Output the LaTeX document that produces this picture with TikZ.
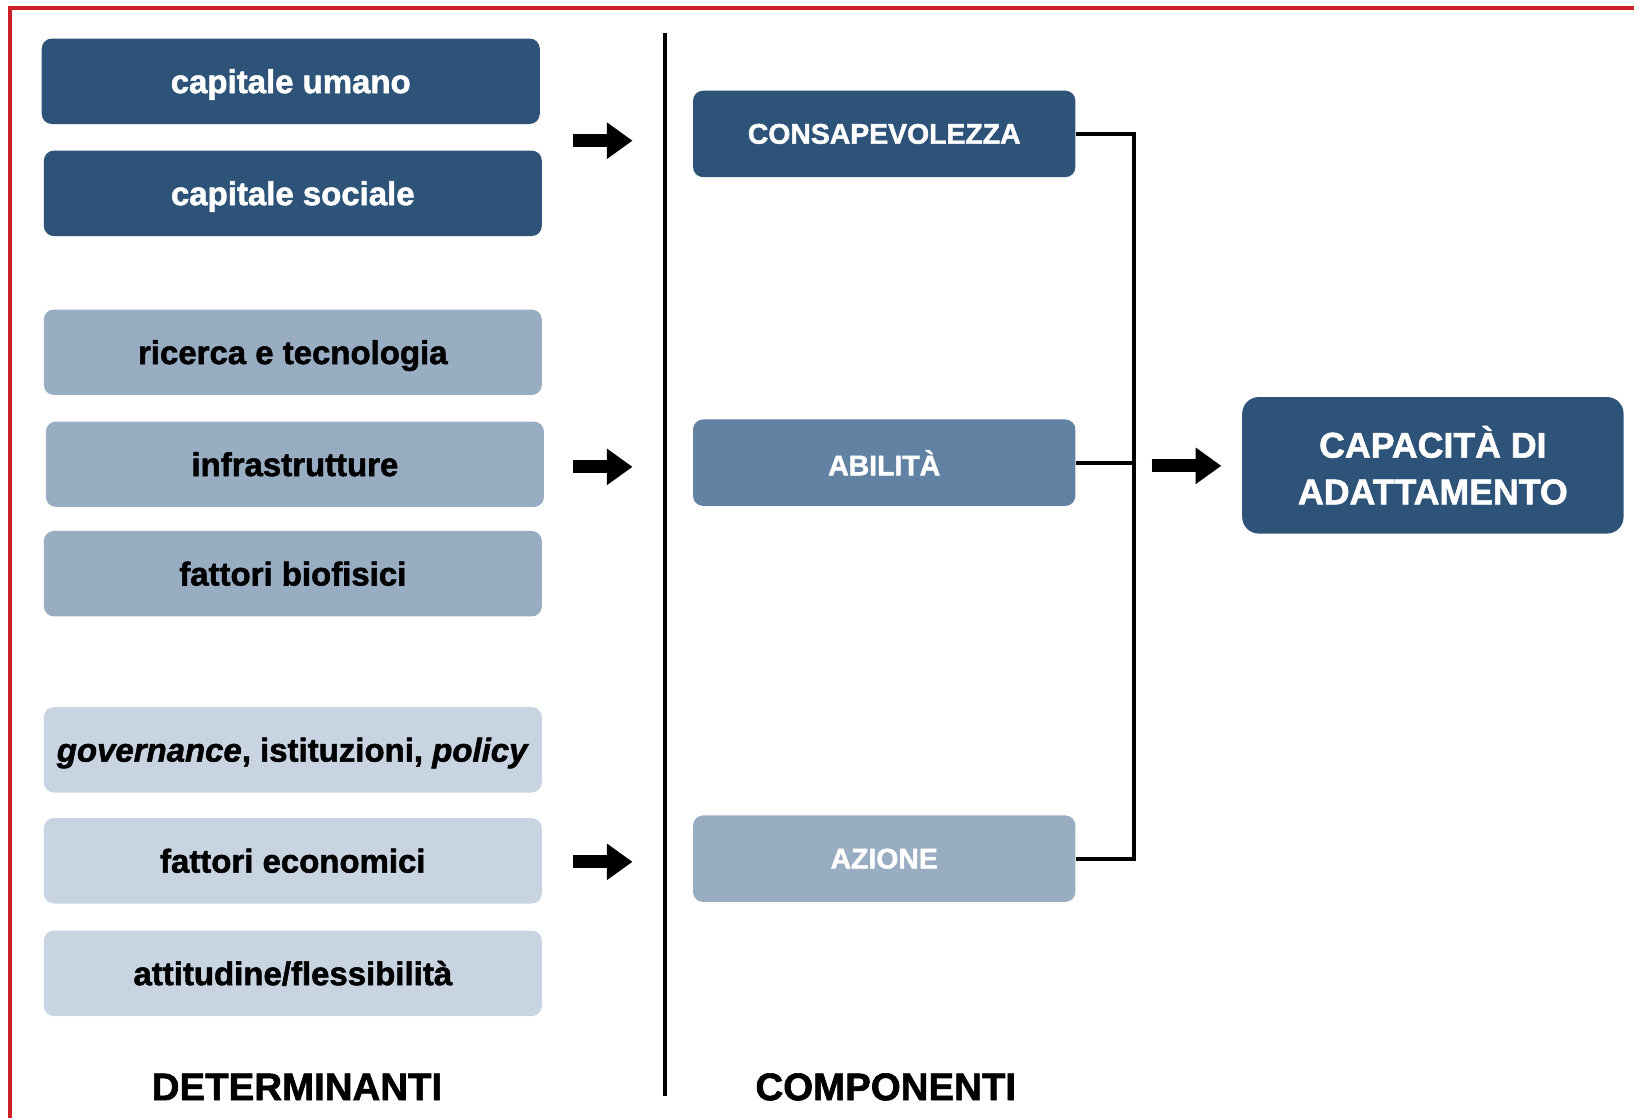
\documentclass[tikz,border=0pt]{standalone}
\usepackage{fontspec}
\setmainfont[BoldFeatures={FakeBold=1.6},BoldItalicFeatures={FakeBold=1.6}]{Liberation Sans}
\usetikzlibrary{arrows.meta}
\definecolor{scuro}{RGB}{45,83,121}
\definecolor{medio}{RGB}{152,172,194}
\definecolor{chiaro}{RGB}{200,212,225}
\definecolor{abil}{RGB}{98,130,163}
\definecolor{bordo}{RGB}{204,32,38}
\begin{document}
\begin{tikzpicture}[x=0.02cm,y=-0.02cm,
	box/.style={rounded corners=5.5pt,minimum width=9.56cm,minimum height=1.64cm,inner sep=0pt,text height=12.9pt,text depth=0pt,font=\fontsize{18}{22}\selectfont\bfseries},
	comp/.style={rounded corners=5.5pt,minimum width=7.34cm,minimum height=1.66cm,inner sep=0pt,text=white,font=\fontsize{15.5}{19}\selectfont\bfseries},
	titolo/.style={font=\fontsize{21}{25}\selectfont\bfseries},
	freccia/.style={line width=7pt,-{Triangle[length=14pt,width=19pt]}},
	linea/.style={line width=2.2pt}]
			\useasboundingbox (0,0) rectangle (1568,1073);
			\draw [bordo,line width=2.2pt] (10,1073)--(10,8)--(1568,8);
			
			\node [box,fill=scuro,text=white] (1) at (279,78) {capitale umano};
			\node [box,fill=scuro,text=white] (2) at (281,185.5) {capitale sociale};
			\node [box,fill=medio] (3) at (281,338) {ricerca e tecnologia};
			\node [box,fill=medio] (4) at (283,445.5) {infrastrutture};
			\node [box,fill=medio] (5) at (281,550.5) {fattori biofisici};
			\node [box,fill=chiaro] (6) at (281,719.5) {\textit{governance}, istituzioni, \textit{policy}};
			\node [box,fill=chiaro] (7) at (281,826) {fattori economici};
			\node [box,fill=chiaro] (8) at (281,934) {attitudine/flessibilità};
			
			\node [comp,fill=scuro] (9) at (848.5,128.5) {CONSAPEVOLEZZA};
			\node [comp,fill=abil] (10) at (848.5,444) {ABILITÀ};
			\node [comp,fill=medio] (11) at (848.5,824) {AZIONE};
			
			\node [rounded corners=9pt,fill=scuro,text=white,minimum width=7.32cm,minimum height=2.62cm,align=center,font=\fontsize{19.5}{25.5}\selectfont\bfseries] (12) at (1375,446.5) {CAPACITÀ DI\\ADATTAMENTO};
			
			\node [titolo] (13) at (285,1043) {DETERMINANTI};
			\node [titolo] (14) at (850,1043) {COMPONENTI};
			
			\draw [line width=1.9pt] (638,32)--(638,1052);
			
			\coordinate (a1) at (550,135);
			\coordinate (b1) at (607,135);
			\coordinate (a2) at (550,448);
			\coordinate (b2) at (607,448);
			\coordinate (a3) at (550,827);
			\coordinate (b3) at (607,827);
			\coordinate (a4) at (1105,447);
			\coordinate (b4) at (1172,447);
			\coordinate (j) at (1088,824);
			
			\draw [freccia] (a1)--(b1);
			\draw [freccia] (a2)--(b2);
			\draw [freccia] (a3)--(b3);
			\draw [freccia] (a4)--(b4);
			
			\draw [linea] (9.east) -| (j) -- (11.east);
			\draw [linea] (10.east) -- (10.east -| j);
		\end{tikzpicture}
\end{document}
